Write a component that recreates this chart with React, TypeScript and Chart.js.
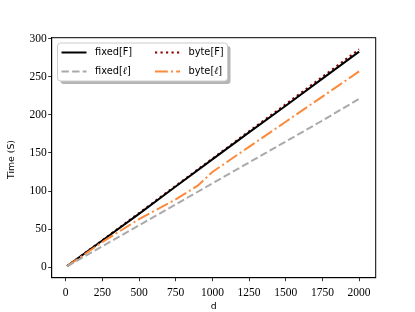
import React, { useEffect, useRef } from "react";
import { Chart, registerables } from "chart.js";

Chart.register(...registerables);

// ---- data ----
const xF = [10, 250, 500, 750, 1000, 1250, 1500, 1750, 2000];
const fixedF = [1.4, 35, 70, 106, 141.5, 177, 212, 247.5, 283];
const byteF = [1.4, 35.5, 71, 107, 142.5, 178.5, 214, 250, 286];
const fixedL = [1.2, 27.5, 55, 82.5, 110, 137.5, 165, 192.5, 221];
const xByteL = [10, 250, 500, 750, 900, 1000, 1250, 1500, 1750, 2000];
const byteL = [1.3, 33, 63, 89, 107, 125, 158, 191, 224, 257];

const xTicks = [0, 250, 500, 750, 1000, 1250, 1500, 1750, 2000];
const yTicks = [0, 50, 100, 150, 200, 250, 300];

const seriesNames = ["fixed[F]", "fixed[ℓ]", "byte[F]", "byte[ℓ]"];

const COLORS = {
  fixedF: "#000000",
  fixedL: "#aaaaaa",
  byteF: "#8b0000",
  byteL: "#fc8a3a",
};

const DASH = {
  fixedF: [] as number[],
  fixedL: [7.4, 3.2],
  byteF: [2.2, 3.3],
  byteL: [12.8, 3.2, 2, 3.2],
};

const LEFT = 51.7;
const RIGHT = 375.7;
const TOP = 37.7;
const BOTTOM = 277.7;
const W = 415;
const H = 312;

function pts(xs: number[], ys: number[]) {
  return xs.map((x, i) => ({ x, y: ys[i] }));
}

const framePlugin = {
  id: "frameAndTitles",
  afterDatasetsDraw(chart: any) {
    const ctx = chart.ctx as CanvasRenderingContext2D;
    const a = chart.chartArea;
    ctx.save();
    // frame
    ctx.strokeStyle = "#000";
    ctx.lineWidth = 1;
    ctx.setLineDash([]);
    ctx.strokeRect(a.left, a.top, a.right - a.left, a.bottom - a.top);

    // legend
    const bx = 57.5, by = 43, bw = 170, bh = 38;
    const r = 3;
    const rr = (x: number, y: number, w: number, h: number) => {
      ctx.beginPath();
      ctx.moveTo(x + r, y);
      ctx.lineTo(x + w - r, y);
      ctx.quadraticCurveTo(x + w, y, x + w, y + r);
      ctx.lineTo(x + w, y + h - r);
      ctx.quadraticCurveTo(x + w, y + h, x + w - r, y + h);
      ctx.lineTo(x + r, y + h);
      ctx.quadraticCurveTo(x, y + h, x, y + h - r);
      ctx.lineTo(x, y + r);
      ctx.quadraticCurveTo(x, y, x + r, y);
      ctx.closePath();
    };
    rr(bx + 3, by + 3, bw, bh);
    ctx.fillStyle = "rgba(120,120,120,0.55)";
    ctx.fill();
    rr(bx, by, bw, bh);
    ctx.fillStyle = "#ffffff";
    ctx.fill();
    ctx.strokeStyle = "#cccccc";
    ctx.lineWidth = 1;
    ctx.stroke();

    const items = [
      { name: seriesNames[0], color: COLORS.fixedF, dash: DASH.fixedF, x: 61.5, y: 52.5 },
      { name: seriesNames[1], color: COLORS.fixedL, dash: DASH.fixedL, x: 61.5, y: 71.5 },
      { name: seriesNames[2], color: COLORS.byteF, dash: DASH.byteF, x: 155, y: 52.5 },
      { name: seriesNames[3], color: COLORS.byteL, dash: DASH.byteL, x: 155, y: 71.5 },
    ];
    for (const it of items) {
      ctx.beginPath();
      ctx.strokeStyle = it.color;
      ctx.lineWidth = 2;
      ctx.setLineDash(it.dash);
      ctx.moveTo(it.x, it.y);
      ctx.lineTo(it.x + 25, it.y);
      ctx.stroke();
      ctx.setLineDash([]);
      // text
      ctx.fillStyle = "#000";
      ctx.textBaseline = "middle";
      ctx.textAlign = "left";
      let tx = it.x + 33.5;
      const parts = it.name.split("ℓ");
      for (let i = 0; i < parts.length; i++) {
        ctx.font = "9.8px 'DejaVu Sans'";
        ctx.fillText(parts[i], tx, it.y);
        tx += ctx.measureText(parts[i]).width;
        if (i < parts.length - 1) {
          ctx.font = "italic 10px 'DejaVu Serif'";
          ctx.fillText("ℓ", tx, it.y);
          tx += ctx.measureText("ℓ").width;
        }
      }
    }

    // axis titles
    ctx.fillStyle = "#000";
    ctx.font = "9.3px 'DejaVu Sans'";
    ctx.textAlign = "center";
    ctx.textBaseline = "middle";
    ctx.fillText("d", (a.left + a.right) / 2, 306.5);
    ctx.save();
    ctx.translate(11.7, 159.5);
    ctx.rotate(-Math.PI / 2);
    ctx.fillText("Time (S)", 0, 0);
    ctx.restore();
    ctx.restore();
  },
};

export default function App() {
  const ref = useRef<HTMLCanvasElement | null>(null);
  useEffect(() => {
    document.body.style.margin = "0";
    const canvas = ref.current!;
    const mk = (label: string, data: any, color: string, dash: number[]) => ({
      label,
      data,
      borderColor: color,
      backgroundColor: color,
      borderWidth: 2,
      borderDash: dash,
      pointRadius: 0,
      showLine: true,
      fill: false,
      tension: 0,
    });
    const chart = new Chart(canvas, {
      type: "scatter",
      data: {
        datasets: [
          mk(seriesNames[1], pts(xF, fixedL), COLORS.fixedL, DASH.fixedL),
          mk(seriesNames[3], pts(xByteL, byteL), COLORS.byteL, DASH.byteL),
          mk(seriesNames[0], pts(xF, fixedF), COLORS.fixedF, DASH.fixedF),
          mk(seriesNames[2], pts(xF, byteF), COLORS.byteF, DASH.byteF),
        ],
      },
      options: {
        animation: false,
        responsive: false,
        devicePixelRatio: 1,
        layout: { padding: { top: TOP, right: W - RIGHT, left: 0, bottom: 0 } },
        plugins: { legend: { display: false }, tooltip: { enabled: false } },
        scales: {
          x: {
            type: "linear",
            min: -95,
            max: 2113,
            afterFit: (s: any) => { s.height = H - BOTTOM; },
            afterBuildTicks: (s: any) => { s.ticks = xTicks.map((v) => ({ value: v })); },
            grid: { drawOnChartArea: false, drawTicks: true, tickLength: 3.5, tickColor: "#000", tickWidth: 0.8 },
            border: { display: true, color: "#000", width: 1 },
            ticks: {
              color: "#000",
              font: { family: "'Liberation Serif'", size: 11.5 },
              padding: 4.5,
              maxRotation: 0,
              autoSkip: false,
              callback: (v: any) => String(v),
            },
          },
          y: {
            type: "linear",
            min: -13.8,
            max: 301.3,
            afterFit: (s: any) => { s.width = LEFT; },
            afterBuildTicks: (s: any) => { s.ticks = yTicks.map((v) => ({ value: v })); },
            grid: { drawOnChartArea: false, drawTicks: true, tickLength: 3.5, tickColor: "#000", tickWidth: 0.8 },
            border: { display: true, color: "#000", width: 1 },
            ticks: {
              color: "#000",
              font: { family: "'Liberation Serif'", size: 11.5 },
              padding: 1.5,
              autoSkip: false,
              callback: (v: any) => String(v),
            },
          },
        },
      },
      plugins: [framePlugin],
    });
    return () => chart.destroy();
  }, []);
  return (
    <div style={{ width: W, height: H }}>
      <canvas ref={ref} width={W} height={H} style={{ width: W, height: H, display: "block" }} />
    </div>
  );
}
